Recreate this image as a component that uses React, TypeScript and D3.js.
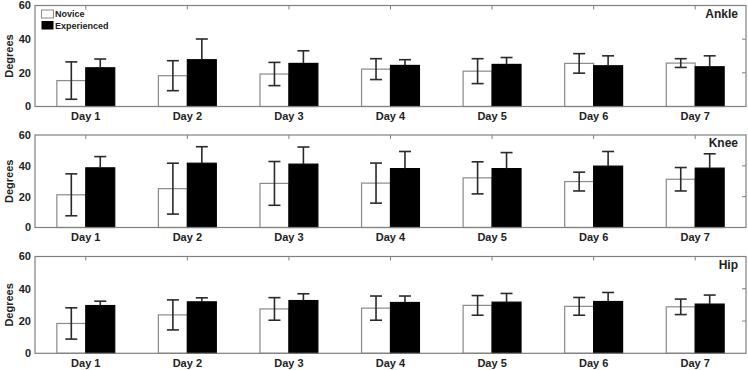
import React from 'react';
import * as d3 from 'd3';

const days = ['Day 1', 'Day 2', 'Day 3', 'Day 4', 'Day 5', 'Day 6', 'Day 7'];
const yTicks = [0, 20, 40, 60];

// Mean and SD (degrees) per day
const ankleNovice = [15.4, 18.3, 19.3, 22.2, 21.0, 25.6, 25.8];
const ankleNoviceSd = [11.1, 8.9, 6.9, 6.2, 7.4, 5.8, 2.6];
const ankleExperienced = [23.0, 27.8, 25.6, 24.4, 25.0, 24.2, 23.6];
const ankleExperiencedSd = [5.2, 12.3, 7.5, 3.4, 4.1, 5.9, 6.5];

const kneeNovice = [21.2, 25.2, 28.6, 28.8, 32.2, 29.8, 31.3];
const kneeNoviceSd = [13.6, 16.5, 14.2, 13.0, 10.4, 6.1, 7.6];
const kneeExperienced = [38.7, 41.7, 41.1, 38.2, 38.2, 39.8, 38.5];
const kneeExperiencedSd = [7.3, 10.7, 11.1, 11.1, 10.4, 9.5, 9.3];

const hipNovice = [18.5, 23.8, 27.5, 28.0, 29.7, 29.1, 28.8];
const hipNoviceSd = [9.7, 9.3, 7.0, 7.5, 6.1, 5.5, 4.8];
const hipExperienced = [29.6, 31.9, 32.7, 31.5, 31.7, 32.1, 30.5];
const hipExperiencedSd = [2.7, 2.5, 4.2, 4.0, 5.4, 5.6, 5.6];

const width = 748;
const height = 370;
const left = 35;
const right = 746;
const font = 'Liberation Sans, Arial, Helvetica, sans-serif';

const panels = [
  { name: 'Ankle', top: 5.5, bottom: 106.5, novice: ankleNovice, noviceSd: ankleNoviceSd, exp: ankleExperienced, expSd: ankleExperiencedSd, legend: true },
  { name: 'Knee', top: 135, bottom: 227.5, novice: kneeNovice, noviceSd: kneeNoviceSd, exp: kneeExperienced, expSd: kneeExperiencedSd, legend: false },
  { name: 'Hip', top: 256.5, bottom: 353.3, novice: hipNovice, noviceSd: hipNoviceSd, exp: hipExperienced, expSd: hipExperiencedSd, legend: false },
];

const x = d3.scaleBand<string>().domain(days).range([left, right]).paddingInner(0).paddingOuter(0);
const groups = ['Novice', 'Experienced'];
const barFrac = 0.285;

const frameColor = '#808080';
const errColor = '#2a2a2a';

function Panel({ p }: { p: (typeof panels)[number] }) {
  const y = d3.scaleLinear().domain([0, 60]).range([p.bottom, p.top]);
  const step = x.step();
  const sub = d3
    .scaleBand<string>()
    .domain(groups)
    .range([-step * barFrac, step * barFrac]);
  const bw = sub.bandwidth();
  const capHalf = 6;
  const tickLen = 4;

  const series = [
    { key: 'Novice', mean: p.novice, sd: p.noviceSd, fill: '#fff', stroke: '#8a8a8a' },
    { key: 'Experienced', mean: p.exp, sd: p.expSd, fill: '#000', stroke: '#000' },
  ];

  return (
    <g>
      {/* bars */}
      {series.map((s) =>
        days.map((d, i) => {
          const cx = (x(d) ?? 0) + step / 2;
          const x0 = cx + (sub(s.key) ?? 0);
          return (
            <rect
              key={s.key + d}
              x={x0}
              y={y(s.mean[i])}
              width={bw}
              height={y(0) - y(s.mean[i])}
              fill={s.fill}
              stroke={s.stroke}
              strokeWidth={1.2}
            />
          );
        })
      )}
      {/* error bars; the lower half of the black bars' whiskers disappears into the fill */}
      {series.map((s) =>
        days.map((d, i) => {
          const cx = (x(d) ?? 0) + step / 2 + (sub(s.key) ?? 0) + bw / 2;
          const hi = y(s.mean[i] + s.sd[i]);
          const lo = y(Math.max(0, s.mean[i] - s.sd[i]));
          const m = y(s.mean[i]);
          const filled = s.key === 'Experienced';
          return (
            <g key={'e' + s.key + d} stroke={errColor} strokeWidth={1.6} fill="none">
              <line x1={cx} x2={cx} y1={hi} y2={filled ? m : lo} />
              <line x1={cx - capHalf} x2={cx + capHalf} y1={hi} y2={hi} />
              {!filled && <line x1={cx - capHalf} x2={cx + capHalf} y1={lo} y2={lo} />}
            </g>
          );
        })
      )}
      {/* frame */}
      <rect
        x={left}
        y={p.top}
        width={right - left}
        height={p.bottom - p.top}
        fill="none"
        stroke={frameColor}
        strokeWidth={1.2}
      />
      {/* inward ticks on top and right */}
      {days.map((d) => {
        const cx = (x(d) ?? 0) + step / 2;
        return (
          <line key={'tt' + d} x1={cx} x2={cx} y1={p.top} y2={p.top + tickLen} stroke={frameColor} strokeWidth={1} />
        );
      })}
      {yTicks.slice(1, -1).map((t) => (
        <line key={'rt' + t} x1={right} x2={right - tickLen} y1={y(t)} y2={y(t)} stroke={frameColor} strokeWidth={1} />
      ))}
      {/* y tick labels */}
      {yTicks.map((t) => (
        <text
          key={'yl' + t}
          x={31}
          y={y(t)}
          dy="0.36em"
          textAnchor="end"
          fontFamily={font}
          fontWeight="bold"
          fontSize={11}
          fill="#222"
        >
          {t}
        </text>
      ))}
      {/* x tick labels */}
      {days.map((d) => (
        <text
          key={'xl' + d}
          x={(x(d) ?? 0) + step / 2}
          y={p.bottom + 10}
          dy="0.36em"
          textAnchor="middle"
          fontFamily={font}
          fontWeight="bold"
          fontSize={11}
          fill="#222"
        >
          {d}
        </text>
      ))}
      <text
        transform={`translate(9,${(p.top + p.bottom) / 2}) rotate(-90)`}
        dy="0.36em"
        textAnchor="middle"
        fontFamily={font}
        fontWeight="bold"
        fontSize={11}
        fill="#222"
      >
        Degrees
      </text>
      <text
        x={right - 8}
        y={p.top + 8}
        dy="0.36em"
        textAnchor="end"
        fontFamily={font}
        fontWeight="bold"
        fontSize={12}
        fill="#222"
      >
        {p.name}
      </text>
      {p.legend && (
        <g fontFamily={font} fontWeight="bold" fontSize={9} fill="#222">
          <rect x={41.5} y={10} width={12} height={8} fill="#fff" stroke="#8a8a8a" strokeWidth={1} />
          <text x={55} y={14} dy="0.36em">Novice</text>
          <rect x={41.5} y={21} width={12} height={8.5} fill="#000" />
          <text x={55} y={25.5} dy="0.36em">Experienced</text>
        </g>
      )}
    </g>
  );
}

export default function App() {
  return (
    <svg
      width={width}
      height={height}
      style={{ position: 'absolute', left: 0, top: 0, background: '#fff' }}
    >
      {panels.map((p) => (
        <Panel key={p.name} p={p} />
      ))}
    </svg>
  );
}
